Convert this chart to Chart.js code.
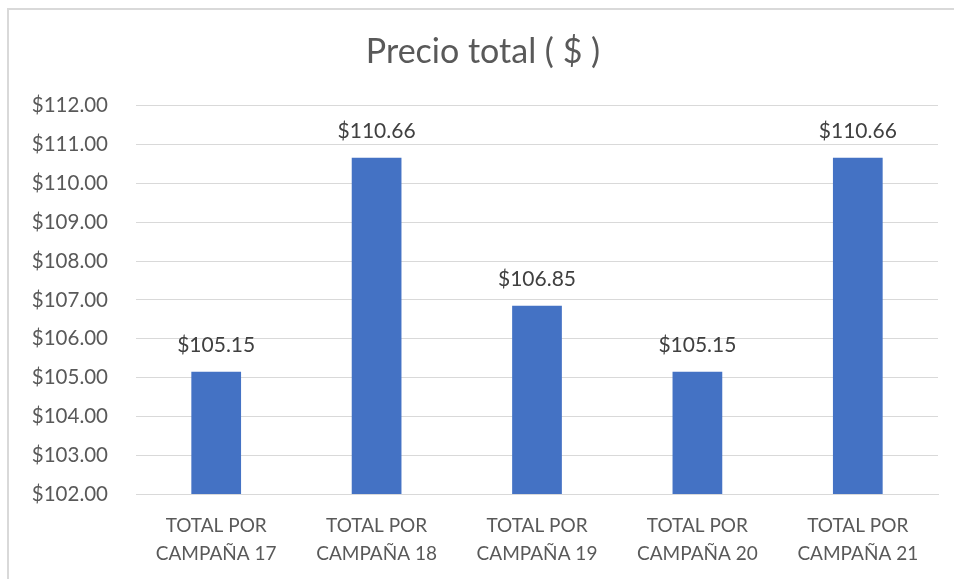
<!DOCTYPE html>
<html>
<head>
<meta charset="utf-8">
<script src="https://cdn.jsdelivr.net/npm/chart.js@4"></script>
<style>
  html, body { margin: 0; padding: 0; background: #fff; }
  #wrap { position: absolute; left: 0; top: 0; width: 954px; height: 579px; }
  #frame { position: absolute; left: 7px; top: 8px; right: 0; bottom: 0;
           border-left: 2px solid #d9d9d9; border-top: 2px solid #d9d9d9; }
</style>
</head>
<body>
<div id="frame"></div>
<div id="wrap"><canvas id="chart"></canvas></div>
<script>
// Chart data
const categories = [
  ["TOTAL POR", "CAMPAÑA 17"],
  ["TOTAL POR", "CAMPAÑA 18"],
  ["TOTAL POR", "CAMPAÑA 19"],
  ["TOTAL POR", "CAMPAÑA 20"],
  ["TOTAL POR", "CAMPAÑA 21"]
];
const precios = [105.15, 110.66, 106.85, 105.15, 110.66];
const yMin = 102;
const yMax = 112;
const yStep = 1;

const FONT = "Lato, 'Open Sans', sans-serif";

function money(v) {
  return "$" + v.toFixed(2);
}

// draws the value above each bar
const barLabels = {
  id: "barLabels",
  afterDatasetsDraw(chart) {
    const ctx = chart.ctx;
    const meta = chart.getDatasetMeta(0);
    ctx.save();
    ctx.font = "21px " + FONT;
    ctx.fillStyle = "#404040";
    ctx.textAlign = "center";
    ctx.textBaseline = "bottom";
    meta.data.forEach(function (bar, i) {
      ctx.fillText(money(precios[i]), bar.x, bar.y - 16);
    });
    ctx.restore();
  }
};

const ctx = document.getElementById("chart").getContext("2d");
new Chart(ctx, {
  type: "bar",
  data: {
    labels: categories,
    datasets: [{
      data: precios,
      backgroundColor: "#4472C4",
      categoryPercentage: 1,
      barPercentage: 0.31
    }]
  },
  options: {
    responsive: true,
    maintainAspectRatio: false,
    animation: false,
    layout: { padding: { left: 28, right: 16, top: 32, bottom: 0 } },
    plugins: {
      legend: { display: false },
      tooltip: { enabled: false },
      title: {
        display: true,
        text: "Precio total ( $ )",
        color: "#595959",
        font: { family: FONT, size: 34, weight: "normal", lineHeight: 1.2 },
        padding: { top: 0, bottom: 33 }
      }
    },
    scales: {
      x: {
        grid: { display: false },
        border: { color: "#d9d9d9", width: 1 },
        ticks: {
          color: "#595959",
          font: { family: FONT, size: 19, lineHeight: 1.47 },
          padding: 10,
          maxRotation: 0,
          autoSkip: false
        },
        afterFit: function (scale) { scale.height = 85; }
      },
      y: {
        min: yMin,
        max: yMax,
        grid: { color: "#d9d9d9", drawTicks: false },
        border: { display: false },
        ticks: {
          stepSize: yStep,
          color: "#595959",
          font: { family: FONT, size: 20.5 },
          padding: 28,
          callback: function (v) { return money(v); }
        },
        afterFit: function (scale) { scale.width = 108; }
      }
    }
  },
  plugins: [barLabels]
});
</script>
</body>
</html>
